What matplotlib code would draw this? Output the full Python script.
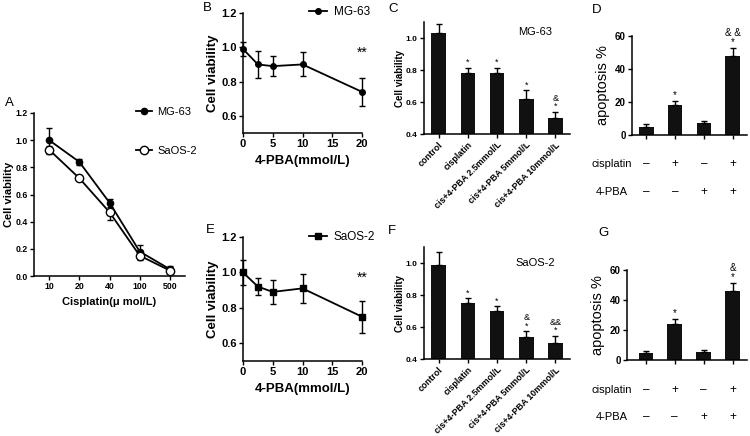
import numpy as np
import matplotlib
matplotlib.use('Agg')
import matplotlib.pyplot as plt
from matplotlib.lines import Line2D

plt.rcParams['font.family'] = ['Liberation Sans', 'DejaVu Sans']

W, H = 750, 436

# A: cisplatin dose response
cis_doses = ['10', '20', '40', '100', '500']
mg63_cis = [1.00, 0.84, 0.54, 0.18, 0.05]
mg63_cis_err = [0.09, 0.02, 0.03, 0.05, 0.02]
saos2_cis = [0.93, 0.72, 0.47, 0.15, 0.04]
saos2_cis_err = [0.03, 0.01, 0.06, 0.03, 0.02]

# B / E: 4-PBA dose response
pba_doses = [0, 2.5, 5, 10, 20]
mg63_pba = [0.99, 0.90, 0.89, 0.90, 0.74]
mg63_pba_err = [0.04, 0.08, 0.06, 0.07, 0.08]
saos2_pba = [1.00, 0.92, 0.89, 0.91, 0.75]
saos2_pba_err = [0.07, 0.05, 0.07, 0.08, 0.09]

# C / F: viability bars
groups = ['control', 'cisplatin', 'cis+4-PBA 2.5mmol/L', 'cis+4-PBA 5mmol/L', 'cis+4-PBA 10mmol/L']
mg63_via = [1.03, 0.78, 0.78, 0.62, 0.50]
mg63_via_err = [0.06, 0.035, 0.035, 0.055, 0.04]
mg63_via_marks = ['', '*', '*', '*', '&\n*']
saos2_via = [0.99, 0.75, 0.70, 0.54, 0.50]
saos2_via_err = [0.08, 0.03, 0.03, 0.035, 0.045]
saos2_via_marks = ['', '*', '*', '&\n*', '&&\n*']

# D / G: apoptosis bars
cisplatin_row = ['\u2013', '+', '\u2013', '+']
pba_row = ['\u2013', '\u2013', '+', '+']
mg63_apo = [5, 18, 7, 48]
mg63_apo_err = [1.5, 2.5, 1.5, 5]
mg63_apo_marks = ['', '*', '', '& &\n*']
saos2_apo = [4.5, 24, 5.5, 46]
saos2_apo_err = [1.5, 3.5, 1.5, 5.5]
saos2_apo_marks = ['', '*', '', '&\n*']

fig = plt.figure(figsize=(W / 100, H / 100), dpi=100)


def add_ax(l, t, r, b):
    # axes from pixel box (left, top, right, bottom)
    ax = fig.add_axes([l / W, 1 - b / H, (r - l) / W, (b - t) / H])
    ax.spines[['top', 'right']].set_visible(False)
    for s in ('left', 'bottom'):
        ax.spines[s].set_linewidth(1.1)
    ax.tick_params(direction='out', length=3, width=1, pad=1.5)
    return ax


def label(x, y, s, **kw):
    fig.text(x / W, 1 - y / H, s, **kw)


def bold_ticks(ax, size, xsize=None):
    for t in ax.get_yticklabels():
        t.set_fontsize(size)
        t.set_fontweight('bold')
    for t in ax.get_xticklabels():
        t.set_fontsize(xsize or size)
        t.set_fontweight('bold')


# ---- A
ax = add_ax(34, 113, 185, 276)
x = np.arange(len(cis_doses))
ax.errorbar(x, mg63_cis, yerr=mg63_cis_err, color='black', lw=1.3, marker='o', ms=4.5,
            capsize=2, elinewidth=1, label='MG-63', clip_on=False)
ax.errorbar(x, saos2_cis, yerr=saos2_cis_err, color='black', lw=1.3, marker='o', ms=6,
            mfc='white', mew=1, capsize=2, elinewidth=1, label='SaOS-2', clip_on=False)
ax.set_xlim(-0.5, 4.5)
ax.set_ylim(0, 1.2)
ax.set_xticks(x)
ax.set_xticklabels(cis_doses)
ax.set_yticks([0, 0.2, 0.4, 0.6, 0.8, 1.0, 1.2])
ax.set_yticklabels(['0.0', '0.2', '0.4', '0.6', '0.8', '1.0', '1.2'])
bold_ticks(ax, 6.3)
ax.set_ylabel('Cell viability', fontsize=8, fontweight='bold')
ax.yaxis.set_label_coords(-0.135, 0.5)
ax.set_xlabel('Cisplatin(\u03bc mol/L)', fontsize=8, fontweight='bold', labelpad=4)
h1 = Line2D([], [], color='black', marker='o', ms=4.5, lw=1.3)
h2 = Line2D([], [], color='black', marker='o', ms=6, mfc='white', mew=1, lw=1.3)
ax.legend([h1, h2], ['MG-63', 'SaOS-2'], loc='upper left', bbox_to_anchor=(136 / W, 1 - 107 / H),
          bbox_transform=fig.transFigure, frameon=False, fontsize=8, handlelength=1.4,
          handletextpad=0.5, labelspacing=2.6, borderpad=0, borderaxespad=0)
label(5, 103, 'A', fontsize=9.5, va='center')


# ---- B / E
def pba_panel(t, b, vals, errs, marker, name, letter, ly):
    ax = add_ax(243, t, 362, b)
    ax.errorbar(pba_doses, vals, yerr=errs, color='black', lw=1.3, marker=marker, ms=4,
                capsize=2.5, elinewidth=1, clip_on=False)
    ax.set_xlim(0, 20)
    ax.set_ylim(0.5, 1.2)
    ax.set_xticks([0, 5, 10, 15, 20])
    ax.set_yticks([0.6, 0.8, 1.0, 1.2])
    bold_ticks(ax, 8)
    ax.set_ylabel('Cell viability', fontsize=9.5, fontweight='bold')
    ax.yaxis.set_label_coords(-0.205, 0.5)
    ax.set_xlabel('4-PBA(mmol/L)', fontsize=9.5, fontweight='bold', labelpad=4)
    ax.annotate('**', (20, 0.93), ha='center', va='bottom', fontsize=10, annotation_clip=False)
    h = Line2D([], [], color='black', marker=marker, ms=4, lw=1.3)
    ax.legend([h], [name], loc='upper left', bbox_to_anchor=(309 / W, 1 - (ly - 7) / H),
              bbox_transform=fig.transFigure, frameon=False, fontsize=8.5, handlelength=1.5,
              handletextpad=0.6, borderpad=0, borderaxespad=0)
    label(letter[1], letter[2], letter[0], fontsize=9.5, va='center')


pba_panel(13, 133, mg63_pba, mg63_pba_err, 'o', 'MG-63', ('B', 203, 8), 13)
pba_panel(237, 361, saos2_pba, saos2_pba_err, 's', 'SaOS-2', ('E', 206, 230), 238)


# ---- C / F
def via_panel(t, b, vals, errs, marks, name, ny, letter):
    ax = add_ax(424, t, 570, b)
    x = np.arange(len(groups))
    ax.bar(x, vals, width=0.5, color='#111111', bottom=0, zorder=2)
    ax.errorbar(x, vals, yerr=[np.zeros(len(errs)), errs], fmt='none', ecolor='black',
                elinewidth=1, capsize=2.5, zorder=3)
    for i, m in enumerate(marks):
        if m:
            ax.annotate(m, (i, vals[i] + errs[i]), xytext=(0, 0.5), textcoords='offset points',
                        ha='center', va='bottom', fontsize=6.5, linespacing=0.85,
                        annotation_clip=False)
    ax.set_xlim(-0.5, 4.5)
    ax.set_ylim(0.4, 1.1)
    ax.set_xticks(x)
    ax.set_xticklabels(groups, rotation=45, ha='right', rotation_mode='anchor')
    ax.set_yticks([0.4, 0.6, 0.8, 1.0])
    bold_ticks(ax, 6, 6.4)
    ax.set_ylabel('Cell viability', fontsize=7, fontweight='bold')
    ax.yaxis.set_label_coords(-0.13, 0.5)
    ax.text(3.3, ny, name, ha='center', va='center', fontsize=8)
    label(letter[1], letter[2], letter[0], fontsize=9.5, va='center')


via_panel(22, 134, mg63_via, mg63_via_err, mg63_via_marks, 'MG-63', 1.04, ('C', 388, 9))
via_panel(247, 359, saos2_via, saos2_via_err, saos2_via_marks, 'SaOS-2', 1.0, ('F', 388, 231))


# ---- D / G
def apo_panel(l, t, b, vals, errs, marks, letter, rows_y, x0, lx):
    ax = add_ax(l, t, 747, b)
    x = np.arange(len(vals))
    ax.bar(x, vals, width=0.5, color='#111111', zorder=2)
    ax.errorbar(x, vals, yerr=[np.zeros(len(errs)), errs], fmt='none', ecolor='black',
                elinewidth=1, capsize=2.5, zorder=3)
    for i, m in enumerate(marks):
        if m:
            ax.annotate(m, (i, vals[i] + errs[i]), xytext=(0, 0.5), textcoords='offset points',
                        ha='center', va='bottom', fontsize=7, linespacing=0.85,
                        annotation_clip=False)
    ax.set_xlim(x0, 3.5)
    ax.set_ylim(0, 60)
    ax.set_xticks(x)
    ax.set_xticklabels([])
    ax.set_yticks([0, 20, 40, 60])
    bold_ticks(ax, 7)
    ax.set_ylabel('apoptosis %', fontsize=10.5)
    ax.yaxis.set_label_coords(lx, 0.5)
    tr = ax.get_xaxis_transform()
    for name, row, yy in [('cisplatin', cisplatin_row, rows_y[0]), ('4-PBA', pba_row, rows_y[1])]:
        label(612, yy, name, fontsize=8, ha='center', va='center')
        for i, s in enumerate(row):
            ax.text(i, 1 - (yy - t) / (b - t), s, transform=tr, ha='center', va='center', fontsize=8.5)
    label(letter[1], letter[2], letter[0], fontsize=9.5, va='center')


apo_panel(632, 36, 135, mg63_apo, mg63_apo_err, mg63_apo_marks, ('D', 592, 10), (164, 192), -0.5, -0.19)
apo_panel(627, 270, 360, saos2_apo, saos2_apo_err, saos2_apo_marks, ('G', 598, 233), (390, 417), -0.65, -0.185)

fig.savefig('out.png', dpi=100, facecolor='white')
